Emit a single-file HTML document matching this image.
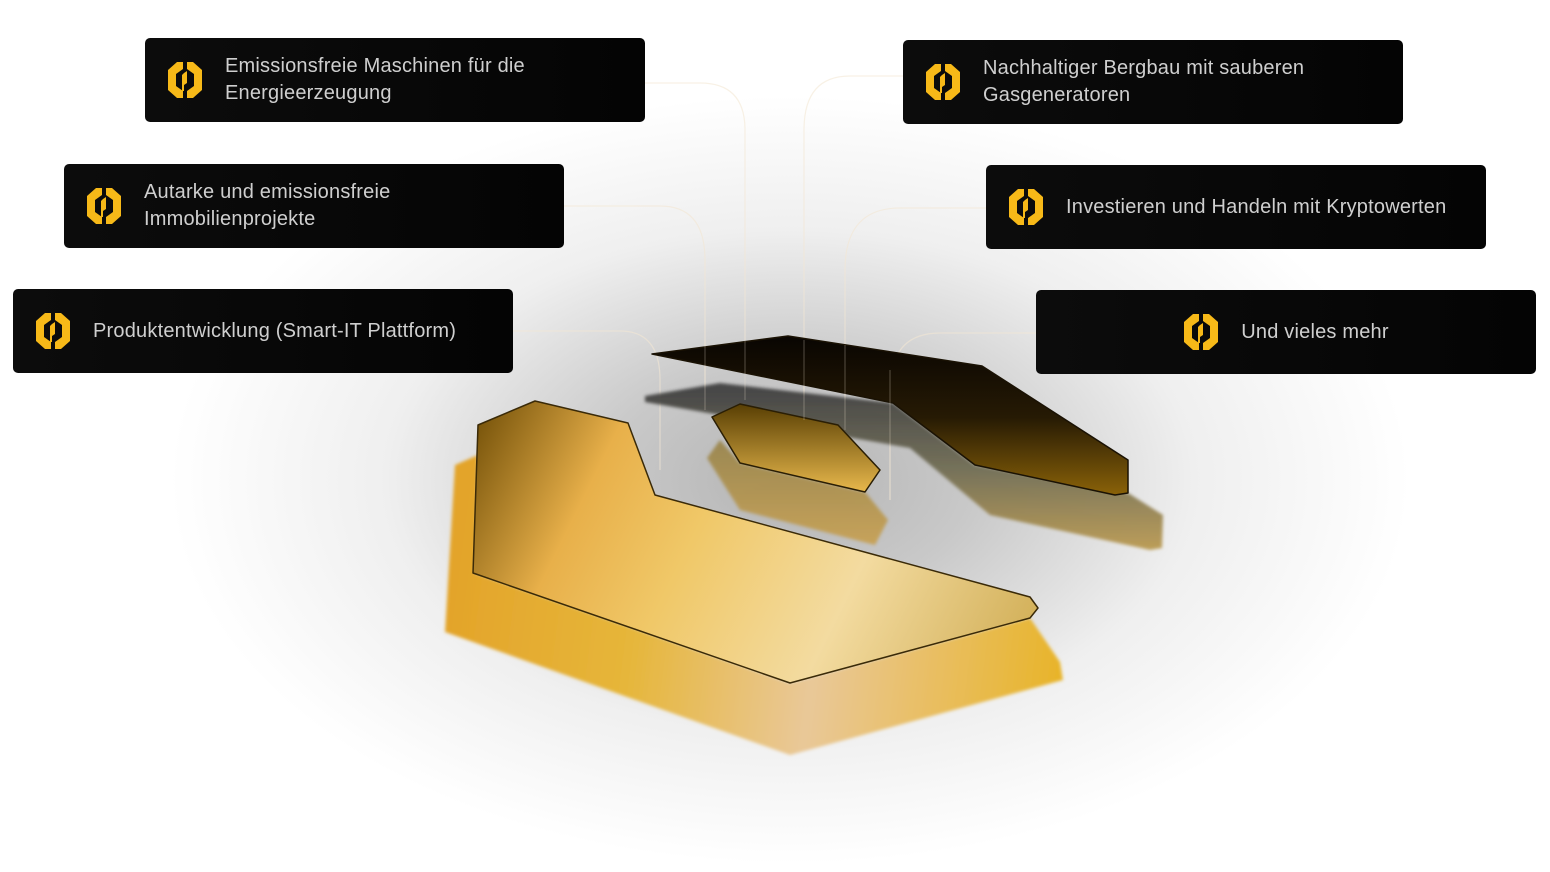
<!DOCTYPE html>
<html><head><meta charset="utf-8"><style>
body{margin:0;width:1550px;height:872px;background:#fff;position:relative;overflow:hidden;font-family:"Liberation Sans",sans-serif}
.card{position:absolute;width:500px;height:84px;background:linear-gradient(90deg,#0c0c0c,#040404);border-radius:5px;display:flex;align-items:center;box-sizing:border-box;color:#cfcfcf;font-size:20px;line-height:27px;letter-spacing:0.2px}
.card svg{flex:none;margin-right:22px}
</style></head><body>
<svg width="1550" height="872" style="position:absolute;left:0;top:0">
<defs>
<radialGradient id="bg" cx="790" cy="480" r="620" gradientUnits="userSpaceOnUse" gradientTransform="translate(790 480) scale(1 0.62) translate(-790 -480)">
<stop offset="0" stop-color="#b4b4b4"/><stop offset="0.3" stop-color="#c9c9c9"/><stop offset="0.65" stop-color="#efefef"/><stop offset="1" stop-color="#fff"/></radialGradient>
<linearGradient id="big" x1="480" y1="420" x2="1000" y2="680" gradientUnits="userSpaceOnUse">
<stop offset="0" stop-color="#7a560c"/><stop offset="0.22" stop-color="#e8b04a"/><stop offset="0.42" stop-color="#f0c868"/><stop offset="0.7" stop-color="#f3dba0"/><stop offset="1" stop-color="#d4b25c"/></linearGradient>
<linearGradient id="bigsh" x1="450" y1="600" x2="1060" y2="680" gradientUnits="userSpaceOnUse">
<stop offset="0" stop-color="#e3a42a"/><stop offset="0.3" stop-color="#e6b63a"/><stop offset="0.6" stop-color="#e9c898"/><stop offset="1" stop-color="#e8b42a"/></linearGradient>
<linearGradient id="dark" x1="0" y1="340" x2="0" y2="495" gradientUnits="userSpaceOnUse">
<stop offset="0" stop-color="#0a0602"/><stop offset="0.5" stop-color="#261a04"/><stop offset="1" stop-color="#8a6208"/></linearGradient>
<linearGradient id="darksh" x1="0" y1="390" x2="0" y2="550" gradientUnits="userSpaceOnUse">
<stop offset="0" stop-color="#3a3a3a"/><stop offset="0.5" stop-color="#6e6a50"/><stop offset="1" stop-color="#b8964a"/></linearGradient>
<linearGradient id="hex" x1="0" y1="405" x2="0" y2="492" gradientUnits="userSpaceOnUse">
<stop offset="0" stop-color="#5a4004"/><stop offset="1" stop-color="#e8b84c"/></linearGradient>
<linearGradient id="hexsh" x1="0" y1="445" x2="0" y2="545" gradientUnits="userSpaceOnUse">
<stop offset="0" stop-color="#9a8448"/><stop offset="1" stop-color="#c8a050"/></linearGradient>
<filter id="bl"><feGaussianBlur stdDeviation="1.5"/></filter>
</defs>
<rect width="1550" height="872" fill="url(#bg)"/>
<g fill="none" stroke="#f3e7d4" stroke-width="1.2" opacity="0.6">
<path d="M645 83 H700 Q745 83 745 130 V340"/>
<path d="M564 206 H660 Q705 206 705 260 V410"/>
<path d="M513 331 H620 Q660 331 660 380 V470"/>
<path d="M903 76 H850 Q804 76 804 130 V400"/>
<path d="M986 208 H900 Q845 208 845 270 V420"/>
<path d="M1036 333 H940 Q890 333 890 390 V500"/>
</g>
<polygon points="455,465 478,455 475,573 790,683 1030,618 1060,662 1063,680 790,755 445,632" fill="url(#bigsh)" filter="url(#bl)"/>
<polygon points="478,425 535,401 628,423 655,495 1030,597 1038,608 1030,618 790,683 473,573" fill="url(#big)" stroke="#3a2a08" stroke-width="1.5" stroke-linejoin="round"/>
<polygon points="645,396 720,383 893,403 975,465 1128,493 1163,515 1162,548 1150,550 990,515 910,448 645,402" fill="url(#darksh)" opacity="0.9" filter="url(#bl)"/>
<polygon points="652,354 788,336 982,366 1128,460 1128,493 1115,495 975,465 893,403" fill="url(#dark)" stroke="#1a1204" stroke-width="1.5" stroke-linejoin="round"/>
<polygon points="707,458 720,440 740,463 865,492 888,520 875,545 740,510" fill="url(#hexsh)" opacity="0.9" filter="url(#bl)"/>
<polygon points="712,417 740,404 838,425 880,470 865,492 740,463" fill="url(#hex)" stroke="#2a1e04" stroke-width="1.5" stroke-linejoin="round"/>
<g stroke="#f3e7d4" stroke-width="1" opacity="0.3"><path d="M745 340V400M705 340V410M804 340V420M845 345V430M890 370V500"/></g>
</svg>
<div class="card" style="left:145px;top:38px;padding-left:22px"><svg width="36" height="38" viewBox="0 0 36 38"><path fill="#f7b918" d="M10 1h6v7l-7 5v12l7 5v7h-6L1 29V9z"/><path fill="#f7b918" d="M26 37h-6v-7l7-5V13l-7-5V1h6l9 8v20z"/><path fill="#f7b918" d="M17 12l3-2v12l-3 2v6h-2V14z"/></svg><div>Emissionsfreie Maschinen für die<br>Energieerzeugung</div></div>
<div class="card" style="left:64px;top:164px;padding-left:22px"><svg width="36" height="38" viewBox="0 0 36 38"><path fill="#f7b918" d="M10 1h6v7l-7 5v12l7 5v7h-6L1 29V9z"/><path fill="#f7b918" d="M26 37h-6v-7l7-5V13l-7-5V1h6l9 8v20z"/><path fill="#f7b918" d="M17 12l3-2v12l-3 2v6h-2V14z"/></svg><div>Autarke und emissionsfreie<br>Immobilienprojekte</div></div>
<div class="card" style="left:13px;top:289px;padding-left:22px"><svg width="36" height="38" viewBox="0 0 36 38"><path fill="#f7b918" d="M10 1h6v7l-7 5v12l7 5v7h-6L1 29V9z"/><path fill="#f7b918" d="M26 37h-6v-7l7-5V13l-7-5V1h6l9 8v20z"/><path fill="#f7b918" d="M17 12l3-2v12l-3 2v6h-2V14z"/></svg><div>Produktentwicklung (Smart-IT Plattform)</div></div>
<div class="card" style="left:903px;top:40px;padding-left:22px"><svg width="36" height="38" viewBox="0 0 36 38"><path fill="#f7b918" d="M10 1h6v7l-7 5v12l7 5v7h-6L1 29V9z"/><path fill="#f7b918" d="M26 37h-6v-7l7-5V13l-7-5V1h6l9 8v20z"/><path fill="#f7b918" d="M17 12l3-2v12l-3 2v6h-2V14z"/></svg><div>Nachhaltiger Bergbau mit sauberen<br>Gasgeneratoren</div></div>
<div class="card" style="left:986px;top:165px;padding-left:22px"><svg width="36" height="38" viewBox="0 0 36 38"><path fill="#f7b918" d="M10 1h6v7l-7 5v12l7 5v7h-6L1 29V9z"/><path fill="#f7b918" d="M26 37h-6v-7l7-5V13l-7-5V1h6l9 8v20z"/><path fill="#f7b918" d="M17 12l3-2v12l-3 2v6h-2V14z"/></svg><div>Investieren und Handeln mit Kryptowerten</div></div>
<div class="card" style="left:1036px;top:290px;justify-content:center"><svg width="36" height="38" viewBox="0 0 36 38"><path fill="#f7b918" d="M10 1h6v7l-7 5v12l7 5v7h-6L1 29V9z"/><path fill="#f7b918" d="M26 37h-6v-7l7-5V13l-7-5V1h6l9 8v20z"/><path fill="#f7b918" d="M17 12l3-2v12l-3 2v6h-2V14z"/></svg><div>Und vieles mehr</div></div>
</body></html>
